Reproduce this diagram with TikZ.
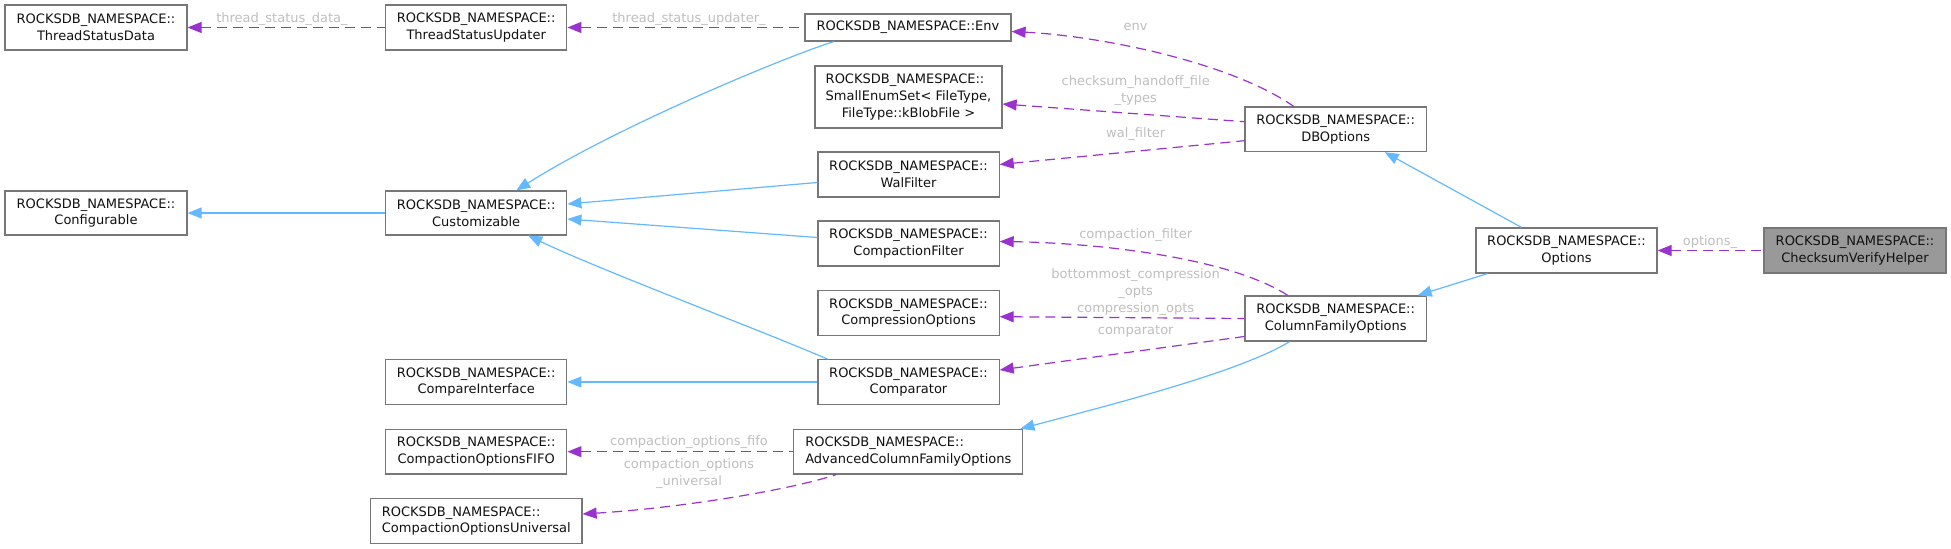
\documentclass[tikz,border=0pt]{standalone}
\usepackage{fontspec}
\setmainfont{DejaVu Sans}
\usetikzlibrary{arrows.meta,calc}
\definecolor{inhc}{HTML}{63B8FF}
\definecolor{usec}{HTML}{9A32CD}
\definecolor{lblc}{HTML}{BEBEBE}
\definecolor{brd}{HTML}{777777}
\definecolor{hl}{HTML}{999999}
\definecolor{txt}{HTML}{111111}
\begin{document}
\begin{tikzpicture}[x=0.5pt,y=-0.5pt,
  cls/.style={draw=brd, line width=0.6pt, fill=white, inner sep=0pt, align=center, font=\fontsize{6.5}{8.35}\selectfont, text=txt},
  lbl/.style={text=lblc, inner sep=0pt, align=center, font=\fontsize{6.5}{8.35}\selectfont},
  inh/.style={draw=inhc, line width=0.6pt, {Triangle[length=7pt,width=5.5pt]}-},
  use/.style={draw=usec, line width=0.6pt, dash pattern=on 5pt off 3pt, {Triangle[length=7pt,width=5.5pt]}-},
]
\useasboundingbox (0,0) rectangle (1951,549);

% nodes
\node[cls, minimum width=91pt, minimum height=22.5pt] (tsd) at (96,27.5) {ROCKSDB\_NAMESPACE::\\ThreadStatusData};
\node[cls, minimum width=90.6pt, minimum height=22.5pt] (tsu) at (476.2,27.5) {ROCKSDB\_NAMESPACE::\\ThreadStatusUpdater};
\node[cls, minimum width=91pt, minimum height=22pt] (conf) at (96,213) {ROCKSDB\_NAMESPACE::\\Configurable};
\node[cls, minimum width=90.6pt, minimum height=22pt] (cust) at (476.2,213) {ROCKSDB\_NAMESPACE::\\Customizable};
\node[cls, minimum width=103pt, minimum height=13.5pt] (env) at (908,27.5) {ROCKSDB\_NAMESPACE::Env};
\node[cls, minimum width=93.5pt, minimum height=31pt] (ses) at (908.5,97) {\begin{tabular}{@{}c@{}}\multicolumn{1}{@{}l@{}}{ROCKSDB\_NAMESPACE::}\\SmallEnumSet< FileType,\\FileType::kBlobFile >\end{tabular}};
\node[cls, minimum width=90.6pt, minimum height=22.5pt] (wal) at (908.5,174.5) {ROCKSDB\_NAMESPACE::\\WalFilter};
\node[cls, minimum width=90.6pt, minimum height=22.5pt] (cf) at (908.5,243.5) {ROCKSDB\_NAMESPACE::\\CompactionFilter};
\node[cls, minimum width=90.6pt, minimum height=22.3pt] (co) at (908.5,313) {ROCKSDB\_NAMESPACE::\\CompressionOptions};
\node[cls, minimum width=90.6pt, minimum height=22.3pt] (cmp) at (908.5,382) {ROCKSDB\_NAMESPACE::\\Comparator};
\node[cls, minimum width=114.5pt, minimum height=22.3pt, align=left] (acfo) at (908.3,451.7) {ROCKSDB\_NAMESPACE::\\AdvancedColumnFamilyOptions};
\node[cls, minimum width=90.6pt, minimum height=22.3pt] (ci) at (476.2,382) {ROCKSDB\_NAMESPACE::\\CompareInterface};
\node[cls, minimum width=90.6pt, minimum height=22.3pt] (fifo) at (476.2,451.7) {ROCKSDB\_NAMESPACE::\\CompactionOptionsFIFO};
\node[cls, minimum width=105.7pt, minimum height=22.3pt, align=left] (univ) at (476.3,521) {ROCKSDB\_NAMESPACE::\\CompactionOptionsUniversal};
\node[cls, minimum width=90.8pt, minimum height=22.3pt] (dbo) at (1335.7,129.3) {ROCKSDB\_NAMESPACE::\\DBOptions};
\node[cls, minimum width=90.8pt, minimum height=22.5pt] (cfo) at (1335.7,318.5) {ROCKSDB\_NAMESPACE::\\ColumnFamilyOptions};
\node[cls, minimum width=90.5pt, minimum height=22.5pt] (opt) at (1566.5,250.5) {ROCKSDB\_NAMESPACE::\\Options};
\node[cls, fill=hl, minimum width=91pt, minimum height=22.5pt] (cvh) at (1855,250.5) {ROCKSDB\_NAMESPACE::\\ChecksumVerifyHelper};

% inheritance
\draw[inh] (conf.east) -- (cust.west);
\draw[inh] ($(cust.north)+(40,0)$) .. controls (620,125) and (790,55) .. ($(env.south)+(-74,0)$);
\draw[inh] ($(cust.east)+(0,-9)$) -- ($(wal.west)+(0,8)$);
\draw[inh] ($(cust.east)+(0,6)$) -- ($(cf.west)+(0,-6)$);
\draw[inh] ($(cust.south)+(52,0)$) .. controls (600,270) and (760,330) .. ($(cmp.north)+(-81,0)$);
\draw[inh] (ci.east) -- (cmp.west);
\draw[inh] ($(dbo.south)+(49,0)$) -- ($(opt.north)+(-45,0)$);
\draw[inh] ($(cfo.north)+(82,0)$) -- ($(opt.south)+(-79,0)$);
\draw[inh] ($(acfo.north east)+(-3,0)$) .. controls (1110,405) and (1240,372) .. ($(cfo.south)+(-46,0)$);

% usage
\draw[use] (tsd.east) -- (tsu.west);
\node[lbl] (l1) at (282,19) {thread\_status\_data\_};
\draw[use] (tsu.east) -- (env.west);
\node[lbl] (l2) at (689,19) {thread\_status\_updater\_};
\draw[use] ($(env.east)+(0,4)$) .. controls (1100,36) and (1230,62) .. ($(dbo.north)+(-42,0)$);
\node[lbl] (l3) at (1135.7,26.7) {env};
\draw[use] ($(ses.east)+(0,7)$) -- ($(dbo.west)+(0,-7.6)$);
\node[lbl] (l4) at (1135.7,90.3) {checksum\_handoff\_file\\\_types};
\draw[use] ($(wal.east)+(0,-10)$) -- ($(dbo.west)+(0,11.4)$);
\node[lbl] (l5) at (1135.7,134.3) {wal\_filter};
\draw[use] ($(cf.east)+(0,-2)$) .. controls (1100,243) and (1230,258) .. ($(cfo.north)+(-48,0)$);
\node[lbl] (l6) at (1135.7,235) {compaction\_filter};
\draw[use] ($(co.east)+(0,3.7)$) -- (cfo.west);
\node[lbl] (l7) at (1135.7,292) {bottommost\_compression\\\_opts\\compression\_opts};
\draw[use] ($(cmp.east)+(0,-12)$) -- ($(cfo.west)+(0,18)$);
\node[lbl] (l8) at (1135.7,331.7) {comparator};
\draw[use] (fifo.east) -- (acfo.west);
\node[lbl] (l9) at (689,442.3) {compaction\_options\_fifo};
\draw[use] ($(univ.east)+(0,-7)$) .. controls (680,508) and (790,490) .. ($(acfo.south)+(-72,0)$);
\node[lbl] (l10) at (689,473.8) {compaction\_options\\\_universal};
\draw[use] (opt.east) -- (cvh.west);
\node[lbl] (l11) at (1710,241.7) {options\_};
\end{tikzpicture}
\end{document}
